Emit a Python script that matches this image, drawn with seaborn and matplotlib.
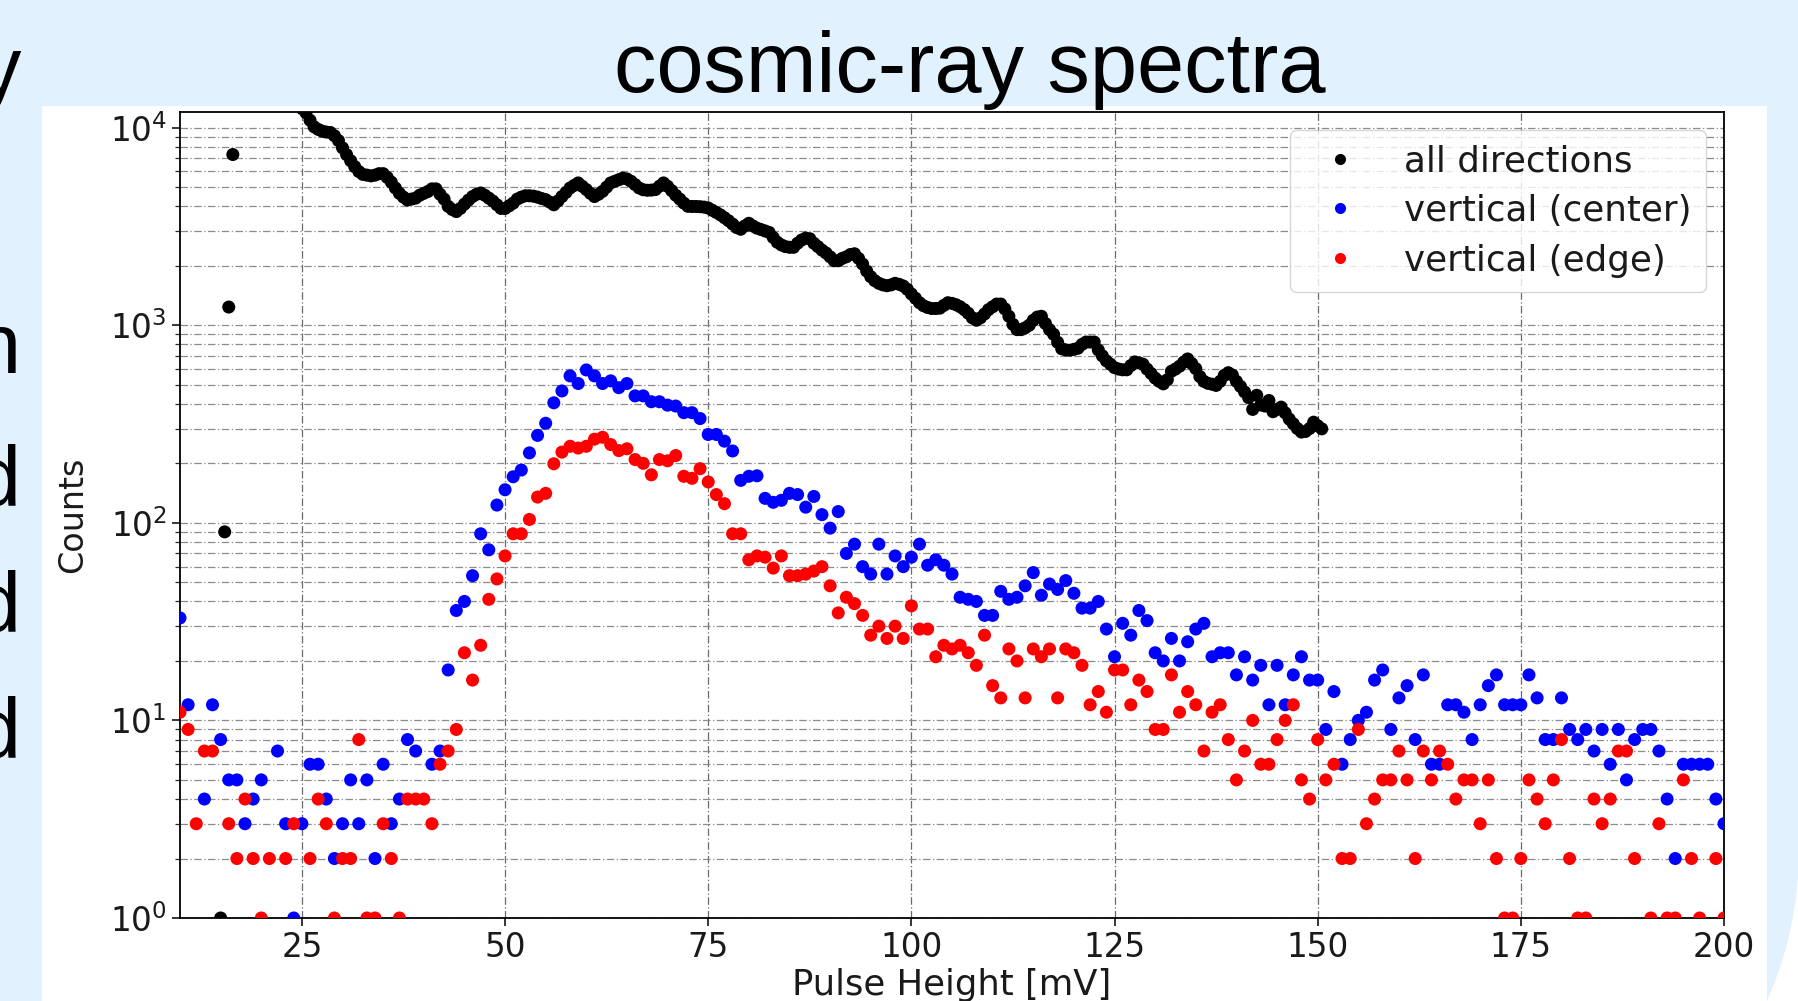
import numpy as np
import pandas as pd
import matplotlib
matplotlib.use("Agg")
import matplotlib.pyplot as plt
import seaborn as sns
from matplotlib.patches import Rectangle, Circle

# ---------------- data ----------------
# colored series: one bin per mV, 10 .. 200 mV (0 = no point drawn)
mv_bins = np.arange(10, 201)
center_counts = [
    33, 12, 0, 4, 12, 8, 5, 5, 3, 4,
    5, 0, 7, 3, 1, 3, 6, 6, 4, 2,
    3, 5, 3, 5, 2, 6, 3, 4, 8, 7,
    0, 6, 7, 18, 36, 40, 54, 88, 73, 123,
    147, 171, 185, 226, 277, 319, 405, 465, 554, 507,
    594, 554, 507, 523, 483, 507, 439, 439, 410, 410,
    394, 390, 361, 361, 337, 280, 280, 259, 231, 164,
    172, 173, 133, 127, 130, 141, 139, 120, 136, 110,
    94, 114, 70, 78, 60, 55, 78, 55, 68, 60,
    67, 78, 61, 65, 61, 55, 42, 41, 40, 34,
    34, 45, 41, 42, 48, 56, 43, 49, 46, 51,
    44, 37, 37, 40, 29, 21, 31, 27, 36, 32,
    22, 20, 26, 20, 25, 29, 31, 21, 22, 22,
    17, 21, 16, 19, 12, 19, 12, 17, 21, 16,
    16, 9, 14, 6, 8, 10, 11, 16, 18, 9,
    13, 15, 8, 17, 6, 6, 12, 12, 11, 8,
    12, 15, 17, 12, 12, 12, 17, 13, 8, 8,
    13, 9, 8, 9, 7, 9, 6, 9, 5, 8,
    9, 9, 7, 4, 2, 6, 6, 6, 6, 4, 3,
]
edge_counts = [
    11, 9, 3, 7, 7, 0, 3, 2, 4, 2,
    1, 2, 0, 2, 3, 0, 2, 4, 3, 1,
    2, 2, 8, 1, 1, 3, 2, 1, 4, 4,
    4, 3, 6, 7, 9, 22, 16, 24, 41, 52,
    68, 88, 88, 104, 135, 141, 199, 228, 244, 239,
    244, 265, 271, 249, 232, 237, 209, 200, 175, 209,
    206, 219, 172, 168, 188, 161, 139, 125, 88, 88,
    65, 68, 67, 59, 68, 54, 54, 55, 57, 60,
    48, 35, 42, 39, 34, 27, 30, 26, 30, 26,
    38, 29, 29, 21, 24, 23, 24, 22, 19, 27,
    15, 13, 23, 20, 13, 23, 21, 23, 13, 23,
    22, 19, 12, 14, 11, 18, 18, 12, 16, 14,
    9, 9, 17, 11, 14, 12, 7, 11, 12, 8,
    5, 7, 10, 6, 6, 8, 10, 12, 5, 4,
    8, 5, 6, 2, 2, 9, 3, 4, 5, 5,
    7, 5, 2, 7, 5, 7, 6, 4, 5, 5,
    3, 5, 2, 1, 1, 2, 5, 4, 3, 5,
    8, 2, 1, 1, 4, 3, 4, 7, 7, 2,
    0, 1, 3, 1, 1, 5, 2, 1, 0, 2, 1,
]
# all directions: isolated low points, then the dense curve (0.5 mV steps)
all_early_x = [15.0, 15.5, 16.0, 16.5]
all_early_counts = [1, 90, 1236, 7310]
all_curve_x = np.arange(25.0, 151.0, 0.5)
all_curve_counts = [
    12500, 11900, 10900, 10100, 9800, 9600, 9500, 9450, 9100, 8600,
    7900, 7300, 6800, 6350, 6000, 5800, 5750, 5700, 5750, 5850,
    5850, 5600, 5300, 4950, 4650, 4450, 4300, 4350, 4400, 4550,
    4650, 4750, 4900, 4900, 4600, 4350, 4000, 3850, 3760, 3900,
    4100, 4300, 4480, 4600, 4670, 4550, 4400, 4250, 4070, 3900,
    3900, 4020, 4150, 4350, 4450, 4520, 4520, 4500, 4450, 4380,
    4320, 4200, 4070, 4250, 4480, 4700, 4950, 5100, 5250, 5050,
    4860, 4650, 4480, 4600, 4760, 5000, 5250, 5350, 5450, 5550,
    5500, 5350, 5150, 4950, 4850, 4820, 4830, 4860, 5050, 5250,
    5050, 4800, 4550, 4350, 4150, 4000, 3990, 3990, 3980, 3960,
    3920, 3820, 3720, 3620, 3500, 3380, 3250, 3120, 3060, 3180,
    3280, 3180, 3100, 3050, 3000, 2950, 2780, 2630, 2550, 2500,
    2480, 2480, 2600, 2700, 2760, 2740, 2600, 2500, 2400, 2320,
    2220, 2120, 2120, 2180, 2220, 2280, 2300, 2180, 2040, 1880,
    1760, 1680, 1630, 1600, 1585, 1600, 1630, 1610, 1580, 1520,
    1440, 1370, 1300, 1255, 1230, 1215, 1215, 1220, 1260, 1300,
    1290, 1270, 1240, 1200, 1150, 1090, 1060, 1090, 1140, 1200,
    1240, 1280, 1280, 1210, 1110, 1010, 950, 950, 970, 1000,
    1060, 1100, 1110, 1020, 950, 900, 820, 760, 750, 747,
    755, 765, 800, 822, 822, 822, 750, 700, 660, 635,
    610, 600, 595, 595, 625, 652, 645, 635, 600, 570,
    540, 520, 505, 530, 585, 600, 620, 650, 675, 640,
    603, 550, 520, 508, 503, 496, 520, 557, 575, 560,
    520, 490, 460, 430, 375, 442, 395, 390, 416, 365,
    375, 385, 360, 335, 317, 300, 288, 290, 300, 323,
    310, 299,
]
series_names = ["all directions", "vertical (center)", "vertical (edge)"]
series_colors = ["#000000", "#0000ff", "#ff0000"]
x_ticks = [25, 50, 75, 100, 125, 150, 175, 200]

# ---------------- table ----------------
frames = [
    pd.DataFrame({"mV": np.concatenate([all_early_x, all_curve_x]),
                  "counts": np.concatenate([all_early_counts, all_curve_counts]),
                  "series": series_names[0]}),
    pd.DataFrame({"mV": mv_bins, "counts": center_counts, "series": series_names[1]}),
    pd.DataFrame({"mV": mv_bins, "counts": edge_counts, "series": series_names[2]}),
]
df = pd.concat(frames, ignore_index=True)
df = df[df["counts"] > 0]

# ---------------- figure ----------------
sns.set_theme(style="ticks")
plt.rcParams["font.family"] = ["DejaVu Sans"]
plt.rcParams["mathtext.fontset"] = "dejavusans"

W, H = 1799, 1001
fig = plt.figure(figsize=(W / 100, H / 100), dpi=100)
BG = "#e1f1fd"
fig.patch.set_facecolor(BG)
# slide decoration: white outside the rounded corner of the blue box, then the
# blue box corner, then the white picture panel
fig.patches.append(Rectangle((1767 / W, 0), (W - 1767) / W, (H - 850) / H,
                             transform=fig.transFigure, facecolor="white",
                             edgecolor="none", zorder=-8))
fig.patches.append(Circle(((W - 372) / 100, (H - 850) / 100), 3.72,
                          transform=fig.dpi_scale_trans, facecolor=BG,
                          edgecolor="none", zorder=-7))
fig.patches.append(Rectangle((42 / W, 0), (1767 - 42) / W, 1 - 105.5 / H,
                             transform=fig.transFigure, facecolor="white",
                             edgecolor="none", zorder=-5))

ax = fig.add_axes([180 / W, 1 - 918 / H, (1724 - 180) / W, (918 - 112) / H])
ax.set_zorder(2)
ax.set_facecolor("white")

sns.scatterplot(data=df, x="mV", y="counts", hue="series",
                hue_order=series_names, palette=dict(zip(series_names, series_colors)),
                s=88, linewidth=0, ax=ax, legend=True, zorder=3)
ax.set_yscale("log")
ax.set_xlim(10, 200)
ax.set_ylim(1, 12000)
ax.set_xticks(x_ticks)

dash = (0, (6, 2, 1, 2))
ax.grid(True, which="major", axis="x", linestyle=dash, color="0.42", linewidth=0.9)
ax.grid(True, which="both", axis="y", linestyle=dash, color="0.55", linewidth=0.9)
ax.set_axisbelow(True)

for sp in ax.spines.values():
    sp.set_color("black")
    sp.set_linewidth(1.3)
ax.tick_params(axis="both", which="major", labelsize=23.5, direction="out",
               length=6, width=1.1, colors="black", labelcolor="#1a1a1a")
ax.tick_params(axis="y", which="minor", direction="out", length=3.5, width=0.9)

ax.set_xlabel("Pulse Height [mV]", fontsize=25.5, color="#1a1a1a", labelpad=3)
ax.set_ylabel("Counts", fontsize=24, color="#1a1a1a", labelpad=15)

handles, labels = ax.get_legend_handles_labels()
leg = ax.legend(handles, labels, loc="upper right", fontsize=25.7, frameon=True,
                fancybox=True, framealpha=0.8, edgecolor="0.8",
                labelspacing=0.44, handletextpad=0.8, borderpad=0.4,
                markerscale=0.85)
for t in leg.get_texts():
    t.set_color("#1a1a1a")

# slide title and cut-off slide text on the left
fig.text(970 / W, 1 - 92 / H, "cosmic-ray spectra", ha="center", va="baseline",
         fontsize=61, family=["Liberation Sans", "DejaVu Sans"], color="black")
for letter, base in [("y", 96), ("n", 373), ("d", 505), ("d", 631), ("d", 757)]:
    fig.text(21 / W, 1 - base / H, letter, ha="right", va="baseline",
             fontsize=61, family=["Liberation Sans", "DejaVu Sans"], color="black")

fig.savefig("out.png", dpi=100, facecolor=fig.get_facecolor())
